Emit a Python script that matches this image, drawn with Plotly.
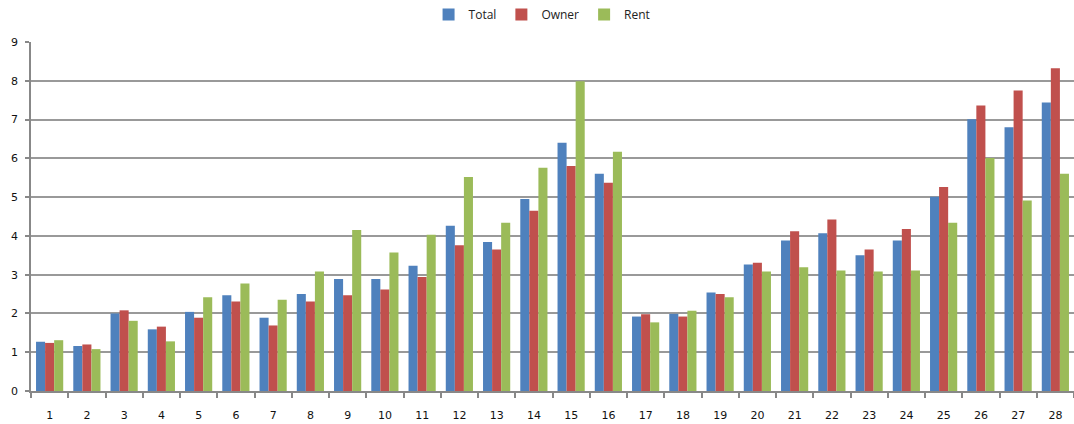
import plotly.graph_objects as go

categories = [str(i) for i in range(1, 29)]
total = [1.27, 1.16, 2.00, 1.59, 2.04, 2.47, 1.89, 2.50, 2.89, 2.89, 3.23, 4.26, 3.84, 4.95,
         6.40, 5.60, 1.92, 1.99, 2.54, 3.26, 3.88, 4.07, 3.50, 3.88, 5.01, 7.01, 6.80, 7.44]
owner = [1.24, 1.20, 2.08, 1.66, 1.89, 2.31, 1.69, 2.31, 2.47, 2.62, 2.94, 3.76, 3.65, 4.65,
         5.80, 5.37, 1.98, 1.92, 2.50, 3.31, 4.12, 4.42, 3.65, 4.18, 5.26, 7.36, 7.75, 8.32]
rent = [1.31, 1.08, 1.81, 1.28, 2.42, 2.77, 2.35, 3.08, 4.15, 3.57, 4.03, 5.52, 4.34, 5.76,
        7.99, 6.17, 1.77, 2.07, 2.42, 3.08, 3.19, 3.11, 3.08, 3.11, 4.34, 6.01, 4.91, 5.60]
y_ticks = list(range(0, 10))

series = [("Total", total, "#4F81BD"), ("Owner", owner, "#C0504D"), ("Rent", rent, "#9BBB59")]

fig = go.Figure()
for name, vals, col in series:
    fig.add_trace(go.Bar(x=categories, y=vals, name=name, marker_color=col,
                         marker_line_width=0))

fig.update_layout(
    width=1074, height=424,
    margin=dict(l=31, r=0, t=42, b=33),
    paper_bgcolor="white", plot_bgcolor="white",
    barmode="group", bargap=0.27, bargroupgap=0,
    font=dict(family="DejaVu Sans", size=11, color="#222"),
    legend=dict(orientation="h", x=0.49, xanchor="center", y=1.0, yanchor="top",
                yref="container", font=dict(family="Open Sans", size=12, color="#222"),
                itemwidth=30, tracegroupgap=0),
    xaxis=dict(type="category", showline=True, linecolor="#888", linewidth=1.5,
               ticks="outside", tickson="boundaries", ticklen=5, tickcolor="#888",
               tickwidth=1.5, showgrid=False, ticklabelstandoff=13,
               tickfont=dict(family="DejaVu Sans", size=11, color="#111")),
    yaxis=dict(range=[0, 9], tickvals=y_ticks, showline=True, linecolor="#888", linewidth=1.5,
               ticks="outside", ticklen=4, tickcolor="#888", tickwidth=1.5,
               showgrid=True, gridcolor="#999", gridwidth=1.5, zeroline=False,
               ticklabelstandoff=5,
               tickfont=dict(family="DejaVu Sans", size=11, color="#111")),
)

fig.write_html("out.html")
